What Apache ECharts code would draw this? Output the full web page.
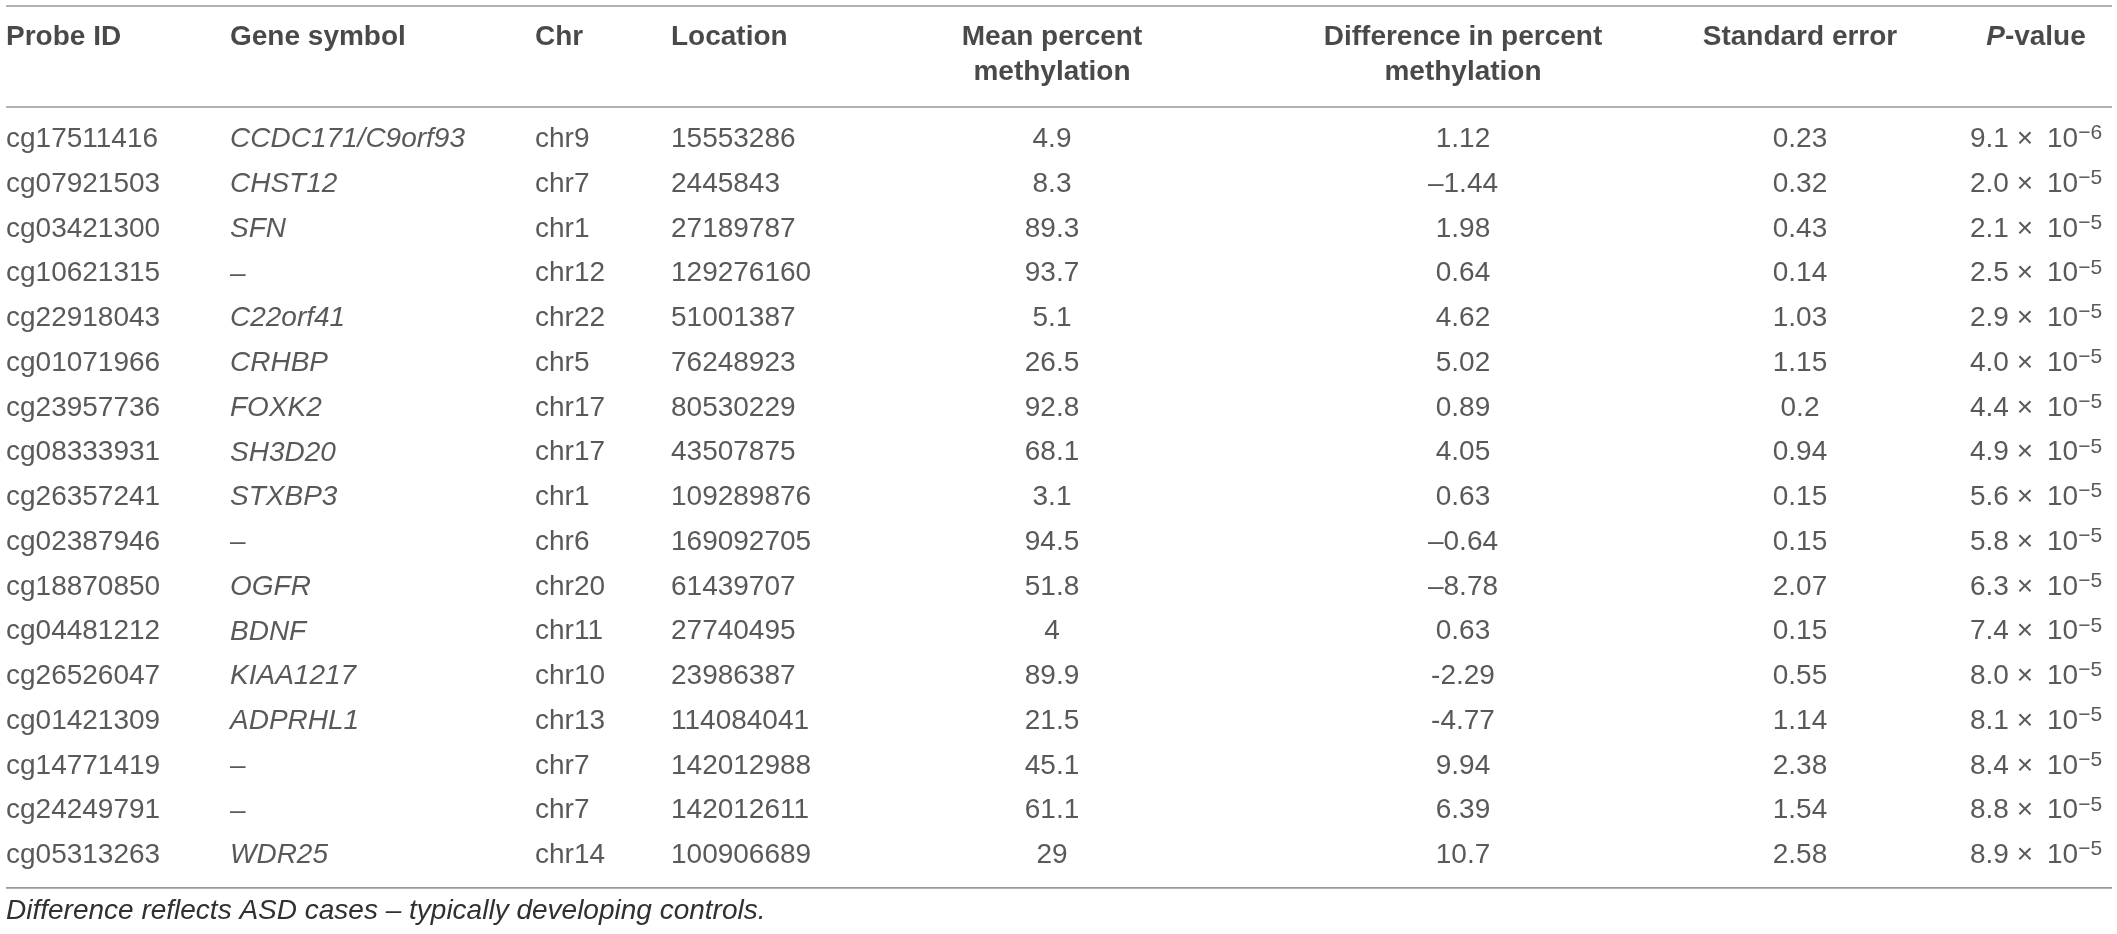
<!DOCTYPE html>
<html>
<head>
<meta charset="utf-8">
<title>Top probes</title>
<script src="https://cdn.jsdelivr.net/npm/echarts@6/dist/echarts.min.js"></script>
<style>
html, body { margin: 0; padding: 0; background: #fff; }
#main { width: 2117px; height: 934px; }
</style>
</head>
<body>
<div id="main"></div>
<script>
// table data
var probeIds = ['cg17511416', 'cg07921503', 'cg03421300', 'cg10621315', 'cg22918043', 'cg01071966',
    'cg23957736', 'cg08333931', 'cg26357241', 'cg02387946', 'cg18870850', 'cg04481212',
    'cg26526047', 'cg01421309', 'cg14771419', 'cg24249791', 'cg05313263'];
var genes = ['CCDC171/C9orf93', 'CHST12', 'SFN', '–', 'C22orf41', 'CRHBP', 'FOXK2', 'SH3D20', 'STXBP3',
    '–', 'OGFR', 'BDNF', 'KIAA1217', 'ADPRHL1', '–', '–', 'WDR25'];
var chrs = ['chr9', 'chr7', 'chr1', 'chr12', 'chr22', 'chr5', 'chr17', 'chr17', 'chr1', 'chr6',
    'chr20', 'chr11', 'chr10', 'chr13', 'chr7', 'chr7', 'chr14'];
var locations = [15553286, 2445843, 27189787, 129276160, 51001387, 76248923, 80530229, 43507875,
    109289876, 169092705, 61439707, 27740495, 23986387, 114084041, 142012988, 142012611, 100906689];
var meanMeth = [4.9, 8.3, 89.3, 93.7, 5.1, 26.5, 92.8, 68.1, 3.1, 94.5, 51.8, 4, 89.9, 21.5, 45.1, 61.1, 29];
// kept as printed (the source mixes en dashes and hyphens)
var diffMeth = ['1.12', '–1.44', '1.98', '0.64', '4.62', '5.02', '0.89', '4.05', '0.63', '–0.64',
    '–8.78', '0.63', '-2.29', '-4.77', '9.94', '6.39', '10.7'];
var stdErr = [0.23, 0.32, 0.43, 0.14, 1.03, 1.15, 0.2, 0.94, 0.15, 0.15, 2.07, 0.15, 0.55, 1.14, 2.38, 1.54, 2.58];
var pMantissa = [9.1, 2.0, 2.1, 2.5, 2.9, 4.0, 4.4, 4.9, 5.6, 5.8, 6.3, 7.4, 8.0, 8.1, 8.4, 8.8, 8.9];
var pExponent = [-6, -5, -5, -5, -5, -5, -5, -5, -5, -5, -5, -5, -5, -5, -5, -5, -5];

var headerLine1 = ['Probe ID', 'Gene symbol', 'Chr', 'Location', 'Mean percent',
    'Difference in percent', 'Standard error', '{i|P}{b|-value}'];
var headerLine2 = ['', '', '', '', 'methylation', 'methylation', '', ''];
var footnote = 'Difference reflects ASD cases – typically developing controls.';

// layout
var W = 2117;
var colX = [6, 230, 535, 671, 1052, 1463, 1800, 2036];
var colAlign = ['left', 'left', 'left', 'left', 'center', 'center', 'center', 'center'];
var rowH = 44.75;
var bodyTop = 117.1;
var font = 'Liberation Sans';
var hidden = { color: 'rgba(0,0,0,0)' };
var bodyColor = '#303030';

function cellText(col, i) {
    switch (col) {
        case 0: return probeIds[i];
        case 1: return genes[i];
        case 2: return chrs[i];
        case 3: return String(locations[i]);
        case 4: return String(meanMeth[i]);
        case 5: return diffMeth[i];
        case 6: return String(stdErr[i]);
        case 7: return '{m|' + pMantissa[i].toFixed(1) + ' \u00d7\u2002' + '10}{s|\u2212' + Math.abs(pExponent[i]) + '}';
    }
}

var series = [];

// header cells
for (var c = 0; c < colX.length; c++) {
    var hd = [[colX[c], 0]];
    if (headerLine2[c]) hd.push([colX[c], 1]);
    series.push({
        type: 'scatter',
        xAxisIndex: 0,
        yAxisIndex: 0,
        silent: true,
        symbolSize: 1,
        itemStyle: hidden,
        data: hd,
        label: {
            show: true,
            position: 'inside',
            align: colAlign[c],
            verticalAlign: 'middle',
            fontFamily: font,
            fontSize: 28,
            fontWeight: 'bold',
            color: '#1c1c1c',
            formatter: (function (col) {
                return function (p) { return p.dataIndex === 0 ? headerLine1[col] : headerLine2[col]; };
            })(c),
            rich: {
                i: { fontFamily: font, fontSize: 28, fontWeight: 'bold', fontStyle: 'italic', color: '#1c1c1c' },
                b: { fontFamily: font, fontSize: 28, fontWeight: 'bold', color: '#1c1c1c' }
            }
        }
    });
}

// body cells
for (var c2 = 0; c2 < colX.length; c2++) {
    var bd = probeIds.map(function (id, i) { return [colX[c2], i]; });
    series.push({
        type: 'scatter',
        xAxisIndex: 1,
        yAxisIndex: 1,
        silent: true,
        symbolSize: 1,
        itemStyle: hidden,
        data: bd,
        label: {
            show: true,
            position: 'inside',
            align: colAlign[c2],
            verticalAlign: 'middle',
            fontFamily: font,
            fontSize: 28,
            fontStyle: c2 === 1 ? 'italic' : 'normal',
            color: bodyColor,
            formatter: (function (col) {
                return function (p) { return cellText(col, p.dataIndex); };
            })(c2),
            rich: {
                m: { fontFamily: font, fontSize: 28, color: bodyColor, lineHeight: 36 },
                s: { fontFamily: font, fontSize: 21, color: bodyColor, lineHeight: 22, padding: [0, 0, 12, 0] }
            }
        }
    });
}

var ruleStyle = { stroke: '#999', lineWidth: 1.6 };
var bodyBottom = bodyTop + rowH * probeIds.length;

var chart = echarts.init(document.getElementById('main'));
chart.setOption({
    backgroundColor: '#fff',
    animation: false,
    grid: [
        { left: 0, right: 0, top: 19.5, height: 70 },
        { left: 0, right: 0, top: bodyTop, height: rowH * probeIds.length }
    ],
    xAxis: [
        { type: 'value', gridIndex: 0, min: 0, max: W, show: false },
        { type: 'value', gridIndex: 1, min: 0, max: W, show: false }
    ],
    yAxis: [
        { type: 'category', gridIndex: 0, data: ['h1', 'h2'], inverse: true, show: false },
        { type: 'category', gridIndex: 1, data: probeIds, inverse: true, show: false }
    ],
    series: series,
    graphic: [
        { type: 'line', shape: { x1: 6, y1: 6, x2: 2112, y2: 6 }, style: ruleStyle, silent: true },
        { type: 'line', shape: { x1: 6, y1: 107, x2: 2112, y2: 107 }, style: ruleStyle, silent: true },
        { type: 'line', shape: { x1: 6, y1: bodyBottom + 10, x2: 2112, y2: bodyBottom + 10 }, style: ruleStyle, silent: true },
        {
            type: 'text', left: 6, top: 897, silent: true,
            style: { text: footnote, fontFamily: font, fontSize: 28, fontStyle: 'italic', fill: bodyColor }
        }
    ]
});
</script>
</body>
</html>
